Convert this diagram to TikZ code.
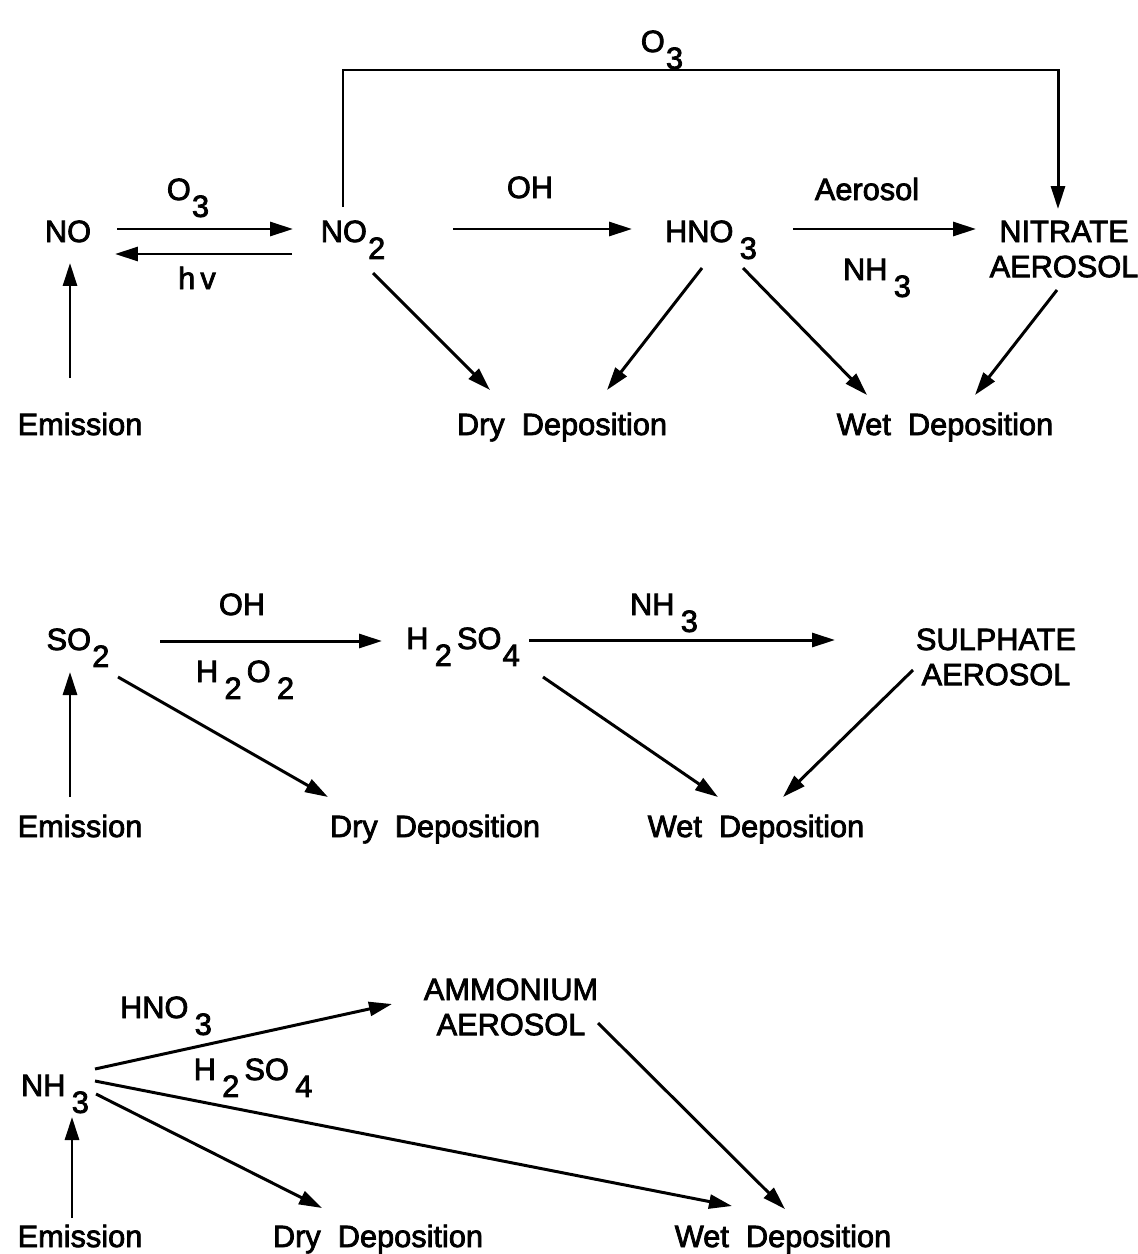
\documentclass[tikz,border=0pt]{standalone}
\usepackage{fontspec}
\setmainfont[FakeBold=2.5]{Liberation Sans}
\usetikzlibrary{arrows.meta}

% lowered full-size index digit, as in hand-lettered formulas
\newcommand{\dn}[1]{\kern0.04em\raisebox{-0.55em}{#1}}
% two centred lines, baseline on the first one
\newcommand{\twoline}[2]{\begin{tabular}[t]{@{}c@{}}#1\\#2\end{tabular}}

\begin{document}
\begin{tikzpicture}[
  x=0.02cm, y=-0.02cm,
  every node/.style={inner sep=0pt, anchor=base, font=\fontsize{17.5}{20}\selectfont},
  conn/.style={line width=1.7pt},
  arr/.style={conn, -{Triangle[length=0.46cm,width=0.28cm]}},
]
\path[use as bounding box, fill=white] (0,0) rectangle (1138,1254);

% ---------------- nitrogen oxides ----------------
\node (no)    at (68,242)   {NO};
\node (no2)   at (353,242)  {NO\dn{2}};
\node (hno3)  at (711,242)  {HNO\,\dn{3}};
\node (nit)   at (1064,242) {\twoline{NITRATE}{AEROSOL}};
\node (em1)   at (80,435)   {Emission};
\node (dry1)  at (562,435)  {Dry~~Deposition};
\node (wet1)  at (945,435)  {Wet~~Deposition};

\node (o3top) at (662,52)   {O\dn{3}};
\node (o3a)   at (188,200)  {O\dn{3}};
\node (hv)    at (197,289)  {h\,v};
\node (oh1)   at (530,198)  {OH};
\node (aer)   at (867,200)  {Aerosol};
\node (nh3a)  at (877,280)  {NH\,\dn{3}};

\draw[arr] ([shift={(-10,-57)}]em1.base) -- ([shift={(2,21)}]no.base);
\draw[arr] ([shift={(49,-13)}]no.base) -- ([shift={(-60,-13)}]no2.base);
\draw[arr] ([shift={(-61,12)}]no2.base) -- ([shift={(47,12)}]no.base);
\draw[arr] ([shift={(-10,-35)}]no2.base) -- ([shift={(-10,-172)}]no2.base)
           -| ([shift={(-6,-33)}]nit.base);
\draw[arr] ([shift={(100,-13)}]no2.base) -- ([shift={(-79,-13)}]hno3.base);
\draw[arr] ([shift={(82,-13)}]hno3.base) -- ([shift={(-88,-13)}]nit.base);
\draw[arr] ([shift={(20,31)}]no2.base) -- ([shift={(-72,-45)}]dry1.base);
\draw[arr] ([shift={(-9,26)}]hno3.base) -- ([shift={(45,-45)}]dry1.base);
\draw[arr] ([shift={(32,26)}]hno3.base) -- ([shift={(-78,-40)}]wet1.base);
\draw[arr] ([shift={(-7,48)}]nit.base) -- ([shift={(30,-40)}]wet1.base);

% ---------------- sulphur dioxide ----------------
\node (so2)   at (78,650)   {SO\dn{2}};
\node (h2so4) at (463,649)  {H\,\dn{2}\,SO\dn{4}};
\node (sul)   at (996,650)  {\twoline{SULPHATE}{AEROSOL}};
\node (em2)   at (80,837)   {Emission};
\node (dry2)  at (435,837)  {Dry~~Deposition};
\node (wet2)  at (756,837)  {Wet~~Deposition};

\node (oh2)   at (242,615)  {OH};
\node (h2o2)  at (245,682)  {H\,\dn{2}\,O\,\dn{2}};
\node (nh3b)  at (664,615)  {NH\,\dn{3}};

\draw[arr] ([shift={(-10,-40)}]em2.base) -- ([shift={(-8,22)}]so2.base);
\draw[arr] ([shift={(82,-9)}]so2.base) -- ([shift={(-81,-8)}]h2so4.base);
\draw[arr] ([shift={(40,27)}]so2.base) -- ([shift={(-107,-40)}]dry2.base);
\draw[arr] ([shift={(66,-9)}]h2so4.base) -- ([shift={(-161,-10)}]sul.base);
\draw[arr] ([shift={(80,28)}]h2so4.base) -- ([shift={(-38,-40)}]wet2.base);
\draw[arr] ([shift={(-83,20)}]sul.base) -- ([shift={(27,-40)}]wet2.base);

% ---------------- ammonia ----------------
\node (nh3)   at (55,1096)  {NH\,\dn{3}};
\node (amm)   at (511,1000) {\twoline{AMMONIUM}{AEROSOL}};
\node (em3)   at (80,1247)  {Emission};
\node (dry3)  at (378,1247) {Dry~~Deposition};
\node (wet3)  at (783,1247) {Wet~~Deposition};

\node (hno3b) at (166,1018) {HNO\,\dn{3}};
\node (h2so4b) at (253,1080) {H\,\dn{2}\,SO\,\dn{4}};

\draw[arr] ([shift={(-8,-29)}]em3.base) -- ([shift={(17,21)}]nh3.base);
\draw[arr] ([shift={(40,-27)}]nh3.base) -- ([shift={(-119,4)}]amm.base);
\draw[arr] ([shift={(40,-15)}]nh3.base) -- ([shift={(-51,-41)}]wet3.base);
\draw[arr] ([shift={(41,-2)}]nh3.base) -- ([shift={(-56,-39)}]dry3.base);
\draw[arr] ([shift={(87,23)}]amm.base) -- ([shift={(2,-38)}]wet3.base);

\end{tikzpicture}
\end{document}
